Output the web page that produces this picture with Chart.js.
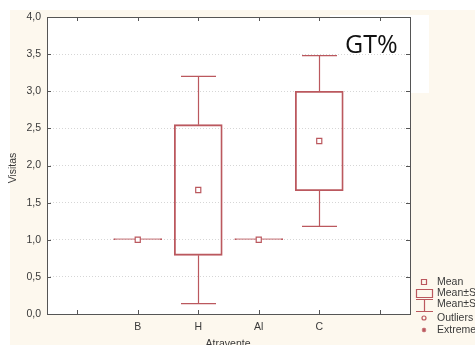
<!DOCTYPE html>
<html>
<head>
<meta charset="utf-8">
<script src="https://cdn.jsdelivr.net/npm/chart.js@4"></script>
<style>
  html, body { margin: 0; padding: 0; background: #ffffff; }
  #wrap { position: relative; width: 475px; height: 345px; }
</style>
</head>
<body>
<div id="wrap"><canvas id="boxChart" width="475" height="345"></canvas></div>
<script>
// Visitas per atravente: mean, standard error and standard deviation
const categories = ["", "B", "H", "Al", "C", ""];
const means = [null, 1.0, 1.67, 1.0, 2.33, null];
const stdErrors = [null, 0, 0.88, 0, 0.67, null];
const stdDevs = [null, 0, 1.53, 0, 1.15, null];
const yTicks = [0, 0.5, 1.0, 1.5, 2.0, 2.5, 3.0, 3.5, 4.0];
const legendLabels = ["Mean", "Mean±SE", "Mean±SD", "Outliers", "Extremes"];

const boxes = means.map((m, i) => (m === null ? null : [m - stdErrors[i], m + stdErrors[i]]));

const RED = "#bb585e";
const TEXT = "#3a3a3a";
const FONT = "Liberation Sans, Arial, sans-serif";

// cream page, white plot area and the white box behind the title
const backdrop = {
  id: "backdrop",
  beforeDraw(chart) {
    const { ctx, chartArea: a } = chart;
    ctx.save();
    ctx.fillStyle = "#ffffff";
    ctx.fillRect(0, 0, chart.width, chart.height);
    ctx.fillStyle = "#fdf8ee";
    ctx.fillRect(10, 10, chart.width - 10, chart.height - 10);
    ctx.fillStyle = "#ffffff";
    ctx.fillRect(a.left, a.top, a.right - a.left, a.bottom - a.top);
    ctx.fillRect(330, 15, 99, 78);
    ctx.restore();
  },
};

// whiskers for mean ± SD (skipped where SD is zero, the box line covers it)
const whiskers = {
  id: "whiskers",
  beforeDatasetsDraw(chart) {
    const { ctx, scales: { x, y } } = chart;
    const capHalf = 17.5;
    ctx.save();
    ctx.strokeStyle = RED;
    ctx.lineWidth = 1.2;
    means.forEach((m, i) => {
      if (m === null || stdDevs[i] === 0) return;
      const px = Math.round(x.getPixelForValue(i)) + 0.5;
      const pairs = [
        [m + stdErrors[i], m + stdDevs[i]],
        [m - stdErrors[i], m - stdDevs[i]],
      ];
      pairs.forEach(([from, to]) => {
        const y0 = y.getPixelForValue(from);
        const y1 = y.getPixelForValue(to);
        ctx.beginPath();
        ctx.moveTo(px, y0);
        ctx.lineTo(px, y1);
        ctx.moveTo(px - capHalf, y1);
        ctx.lineTo(px + capHalf, y1);
        ctx.stroke();
      });
    });
    ctx.restore();
  },
};

// plot frame, inward tick marks, axis titles, title and legend
const decorations = {
  id: "decorations",
  afterDraw(chart) {
    const { ctx, chartArea: a, scales: { x, y } } = chart;
    const tl = 4;
    ctx.save();
    ctx.strokeStyle = "#555555";
    ctx.lineWidth = 1;
    ctx.strokeRect(Math.round(a.left) + 0.5, Math.round(a.top) + 0.5,
      Math.round(a.right - a.left), Math.round(a.bottom - a.top));

    ctx.beginPath();
    x.ticks.forEach((t, i) => {
      const px = Math.round(x.getPixelForTick(i)) + 0.5;
      ctx.moveTo(px, a.bottom);
      ctx.lineTo(px, a.bottom - tl);
      ctx.moveTo(px, a.top);
      ctx.lineTo(px, a.top + tl);
    });
    y.ticks.forEach((t, i) => {
      const py = Math.round(y.getPixelForTick(i)) + 0.5;
      ctx.moveTo(a.left, py);
      ctx.lineTo(a.left + tl, py);
      ctx.moveTo(a.right, py);
      ctx.lineTo(a.right - tl, py);
    });
    ctx.stroke();

    // axis titles
    ctx.fillStyle = TEXT;
    ctx.font = "10.5px " + FONT;
    ctx.textAlign = "center";
    ctx.textBaseline = "top";
    ctx.fillText("Atravente", (a.left + a.right) / 2 - 0.5, 339);
    ctx.save();
    ctx.translate(13, 168);
    ctx.rotate(-Math.PI / 2);
    ctx.textBaseline = "middle";
    ctx.fillText("Visitas", 0, 0);
    ctx.restore();

    // title
    ctx.fillStyle = "#111111";
    ctx.font = "25px Open Sans, sans-serif";
    ctx.textAlign = "left";
    ctx.textBaseline = "alphabetic";
    ctx.fillText("GT%", 345, 53);

    // legend
    const rowsY = [282, 293, 304, 318, 330];
    const sx = 424;
    ctx.strokeStyle = RED;
    ctx.fillStyle = RED;
    ctx.lineWidth = 1.2;
    ctx.beginPath();
    ctx.rect(sx - 2.5, rowsY[0] - 2.5, 5, 5);
    ctx.rect(416.5, 289.5, 16, 8);
    ctx.moveTo(416, 299.5); ctx.lineTo(433, 299.5);
    ctx.moveTo(sx + 0.5, 299.5); ctx.lineTo(sx + 0.5, 311.5);
    ctx.moveTo(416, 311.5); ctx.lineTo(433, 311.5);
    ctx.stroke();
    ctx.beginPath();
    ctx.arc(sx, rowsY[3], 2, 0, Math.PI * 2);
    ctx.stroke();
    ctx.beginPath();
    for (let k = 0; k < 4; k++) {
      const ang = (k * Math.PI) / 4;
      ctx.moveTo(sx - 2.2 * Math.cos(ang), rowsY[4] - 2.2 * Math.sin(ang));
      ctx.lineTo(sx + 2.2 * Math.cos(ang), rowsY[4] + 2.2 * Math.sin(ang));
    }
    ctx.stroke();

    ctx.fillStyle = TEXT;
    ctx.font = "10.5px " + FONT;
    ctx.textBaseline = "middle";
    legendLabels.forEach((label, i) => ctx.fillText(label, 437, rowsY[i]));
    ctx.restore();
  },
};

new Chart(document.getElementById("boxChart"), {
  type: "bar",
  data: {
    labels: categories,
    datasets: [
      {
        type: "line",
        label: "Mean",
        data: means,
        showLine: false,
        pointStyle: "rect",
        pointRadius: 3.6,
        pointBackgroundColor: "#ffffff",
        pointBorderColor: RED,
        pointBorderWidth: 1.2,
        order: 0,
      },
      {
        label: "Mean±SE",
        data: boxes,
        backgroundColor: "rgba(0,0,0,0)",
        borderColor: RED,
        borderWidth: 1.2,
        borderSkipped: false,
        barThickness: 48,
        minBarLength: 1.2,
        grouped: false,
        order: 2,
      },
    ],
  },
  options: {
    responsive: false,
    animation: false,
    devicePixelRatio: 1,
    layout: { padding: { left: 10, top: 17, right: 65, bottom: 0 } },
    scales: {
      x: {
        offset: true,
        grid: { display: false, drawTicks: false },
        border: { display: false },
        ticks: { color: TEXT, font: { family: FONT, size: 10.5 }, padding: 7, autoSkip: false, maxRotation: 0 },
        afterFit: (scale) => { scale.height = 31; },
      },
      y: {
        min: 0,
        max: 4,
        afterBuildTicks: (scale) => { scale.ticks = yTicks.map((v) => ({ value: v })); },
        grid: { color: "#d6d6d6", drawTicks: false },
        border: { display: false, dash: [1, 2] },
        ticks: {
          color: TEXT,
          font: { family: FONT, size: 10.5 },
          padding: 6,
          callback: (v) => Number(v).toFixed(1).replace(".", ","),
        },
        afterFit: (scale) => { scale.width = 37; },
      },
    },
    plugins: {
      legend: { display: false },
      tooltip: { enabled: false },
    },
  },
  plugins: [backdrop, whiskers, decorations],
});
</script>
</body>
</html>
